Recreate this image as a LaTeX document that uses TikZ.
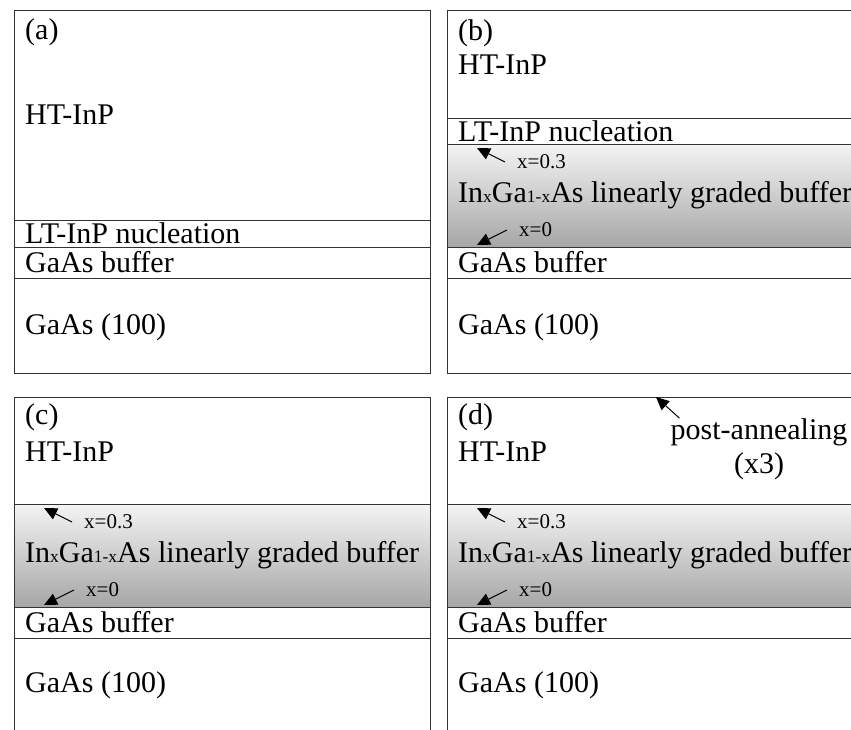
\documentclass[tikz,border=0pt]{standalone}
\usepackage{fontspec}
\setmainfont{Liberation Serif}
\usetikzlibrary{arrows.meta, positioning, calc}
\definecolor{edgecol}{HTML}{333333}
\definecolor{gradtop}{HTML}{F4F4F4}
\definecolor{gradmid}{HTML}{DCDCDC}
\definecolor{gradbot}{HTML}{A6A6A6}

\newcommand{\idx}[1]{{\fontsize{17.5}{17.5}\selectfont #1}}

% graded buffer: #1 name, #2 left x, #3 right x, #4 top y
\newcommand{\gradedbuffer}[4]{%
  \shade[top color=gradtop, middle color=gradmid, bottom color=gradbot]
    (#2,#4) rectangle (#3,#4+103);
  \draw[sep] (#2,#4) -- (#3,#4);
  \draw[sep] (#2,#4+103) -- (#3,#4+103);
  \node[layer] (#1-grad) at (#2+11,#4+51)
    {In\idx{x}Ga\idx{1-x}As linearly graded buffer};
  \node[small] (#1-x3) at (#2+70,#4+18) {x=0.3};
  \node[small] (#1-x0) at (#2+72,#4+86) {x=0};
  \coordinate (#1-t3) at (#2+30,#4+4);
  \coordinate (#1-t0) at (#2+30,#4+101);
  \draw[arr] ([xshift=-12pt]#1-x3.west) -- (#1-t3);
  \draw[arr] ([xshift=-12pt]#1-x0.west) -- (#1-t0);
}

\begin{document}
\begin{tikzpicture}[
    x=1pt, y=-1pt,
    frame/.style={draw=edgecol, line width=0.9pt},
    sep/.style={draw=edgecol, line width=0.9pt},
    layer/.style={anchor=west, inner sep=0pt,
                  font=\fontsize{30}{34}\selectfont},
    small/.style={anchor=west, inner sep=0pt,
                  font=\fontsize{21}{23}\selectfont},
    arr/.style={-{Triangle[length=13pt, width=12pt]}, line width=1pt},
  ]
    \useasboundingbox (0,0) rectangle (851,729);
    \clip (0,0) rectangle (851,729);

    % (a)
    \draw[frame] (14,10) rectangle (430,373);
    \draw[sep] (14,220) -- (430,220);
    \draw[sep] (14,247) -- (430,247);
    \draw[sep] (14,278) -- (430,278);
    \node[layer] (a-tag)  at (25,32)  {(a)};
    \node[layer] (a-ht)   at (25,115) {HT-InP};
    \node[layer] (a-lt)   at (25,233) {LT-InP nucleation};
    \node[layer] (a-buf)  at (25,262) {GaAs buffer};
    \node[layer] (a-sub)  at (25,327) {GaAs (100)};

    % (b)
    \gradedbuffer{b}{447}{880}{144}
    \draw[frame] (447,10) rectangle (880,373);
    \draw[sep] (447,118) -- (880,118);
    \draw[sep] (447,278) -- (880,278);
    \node[layer] (b-tag)  at (458,33)  {(b)};
    \node[layer] (b-ht)   at (458,65)  {HT-InP};
    \node[layer] (b-lt)   at (458,131) {LT-InP nucleation};
    \node[layer] (b-buf)  at (458,262) {GaAs buffer};
    \node[layer] (b-sub)  at (458,327) {GaAs (100)};

    % (c)
    \gradedbuffer{c}{14}{430}{504}
    \draw[frame] (14,397) rectangle (430,760);
    \draw[sep] (14,638) -- (430,638);
    \node[layer] (c-tag)  at (25,417) {(c)};
    \node[layer] (c-ht)   at (25,452) {HT-InP};
    \node[layer] (c-buf)  at (25,622) {GaAs buffer};
    \node[layer] (c-sub)  at (25,685) {GaAs (100)};

    % (d)
    \gradedbuffer{d}{447}{880}{504}
    \draw[frame] (447,397) rectangle (880,760);
    \draw[sep] (447,638) -- (880,638);
    \node[layer] (d-tag)  at (458,417) {(d)};
    \node[layer] (d-ht)   at (458,452) {HT-InP};
    \node[layer] (d-buf)  at (458,622) {GaAs buffer};
    \node[layer] (d-sub)  at (458,685) {GaAs (100)};
    \node[layer, anchor=center, align=center] (anneal) at (759,449)
      {post-annealing\\(x3)};
    \coordinate (anneal-tip) at (656,397);
    \draw[arr] ([xshift=9pt]anneal.north west) -- (anneal-tip);
  \end{tikzpicture}
\end{document}
